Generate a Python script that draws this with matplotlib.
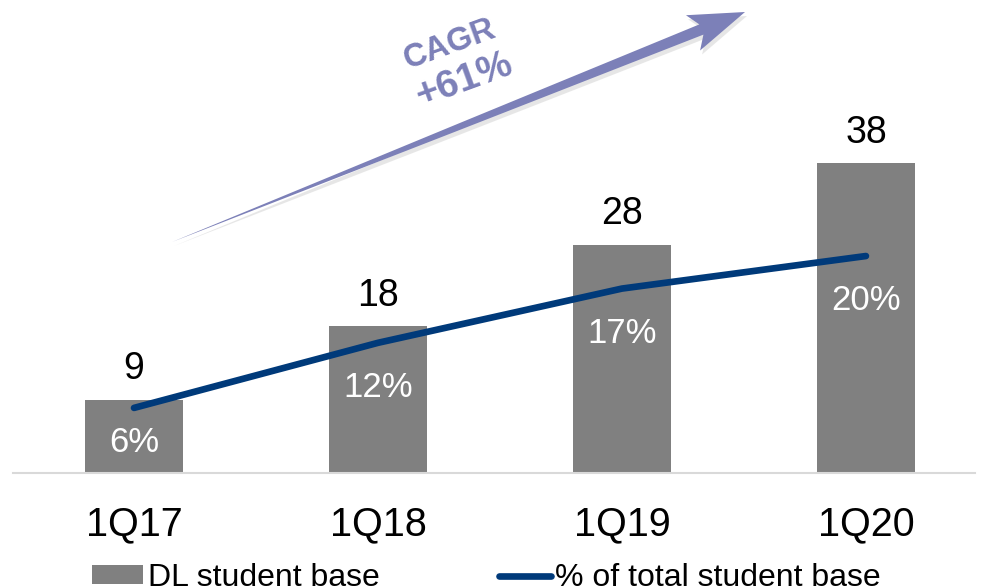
import matplotlib
matplotlib.use("Agg")
import matplotlib.pyplot as plt
from matplotlib.patches import Polygon, Patch
from matplotlib.lines import Line2D
import numpy as np

plt.rcParams['font.family'] = ['Liberation Sans', 'DejaVu Sans']

categories = ["1Q17", "1Q18", "1Q19", "1Q20"]
students = [9, 18, 28, 38]
pct_total = [6, 12, 17, 20]
pct_labels = ["6%", "12%", "17%", "20%"]
cagr_title = "CAGR"
cagr_value = "+61%"

BAR_COLOR = "#808080"
LINE_COLOR = "#003A7A"
ARROW_COLOR = "#7C80B8"

W, H = 982, 588
fig = plt.figure(figsize=(W / 100, H / 100), dpi=100)
ax = fig.add_axes([13 / W, 115 / H, 962 / W, 473 / H])
x = np.arange(len(categories))
ax.bar(x, students, width=0.4, color=BAR_COLOR, zorder=2)
ax.set_xlim(-0.496, 3.447)
ax.set_ylim(0, 58.0)
for s in ["top", "right", "left"]:
    ax.spines[s].set_visible(False)
ax.spines["bottom"].set_color("#D9D9D9")
ax.spines["bottom"].set_linewidth(1.5)
ax.set_yticks([])
ax.set_xticks(x)
ax.set_xticklabels(categories, fontsize=28.5)
ax.tick_params(axis="x", length=0, pad=23)
for xi, v in zip(x, students):
    ax.annotate(str(v), (xi, v), xytext=(0, 9), textcoords="offset points",
                ha="center", va="bottom", fontsize=27, color="black")

ax2 = ax.twinx()
ax2.set_ylim(0, 43.6)
ax2.set_yticks([])
for s in ax2.spines.values():
    s.set_visible(False)
ax2.plot(x, pct_total, color=LINE_COLOR, linewidth=4.8, solid_capstyle="round",
         solid_joinstyle="round", zorder=3)
offs = [-25, -32, -32, -32]
for xi, v, lab, o in zip(x, pct_total, pct_labels, offs):
    ax2.annotate(lab, (xi, v), xytext=(0, o), textcoords="offset points",
                 ha="center", va="center", fontsize=25, color="white")

# CAGR arrow (decoration) in pixel coords -> figure fraction
def px(pxx, pyy):
    return (pxx / W, 1 - pyy / H)

tail = np.array([172.0, 242.0])
tip = np.array([745.0, 12.0])
d = tip - tail
L = np.hypot(*d)
u = d / L
n = np.array([u[1], -u[0]])  # perpendicular
def pt(s, w):
    p = tail + u * s + n * w
    return px(p[0], p[1])
poly = [pt(0, 0), pt(L * 0.5, 3.2), pt(L - 47, 5.5), pt(L - 56, 19), pt(L, 0),
        pt(L - 56, -19), pt(L - 47, -5.5), pt(L * 0.5, -3.2)]
shadow = [(a + 2 / W, b - 4 / H) for a, b in poly]
fig.patches.append(Polygon(shadow, closed=True, transform=fig.transFigure,
                           facecolor="#CFCFCF", edgecolor="none", alpha=0.5))
fig.patches.append(Polygon(poly, closed=True, transform=fig.transFigure,
                           facecolor=ARROW_COLOR, edgecolor="none"))
fig.text(450 / W, 1 - 45 / H, cagr_title, rotation=20, rotation_mode="anchor",
         ha="center", va="center", fontsize=23.5, fontweight="bold",
         color=ARROW_COLOR)
fig.text(464 / W, 1 - 80 / H, cagr_value, rotation=20, rotation_mode="anchor",
         ha="center", va="center", fontsize=28, fontweight="bold",
         color=ARROW_COLOR)

handles = [Patch(facecolor=BAR_COLOR, edgecolor="none"),
           Line2D([0], [0], color=LINE_COLOR, linewidth=4.8, solid_capstyle="round")]
fig.legend(handles, ["DL student base", "% of total student base"], ncol=2,
           loc="lower left", bbox_to_anchor=(92 / W, -5 / H), frameon=False,
           fontsize=23, handlelength=1.6, handleheight=0.55, handletextpad=0.15,
           columnspacing=3.75, borderpad=0, borderaxespad=0)

fig.savefig("out.png", dpi=100)
